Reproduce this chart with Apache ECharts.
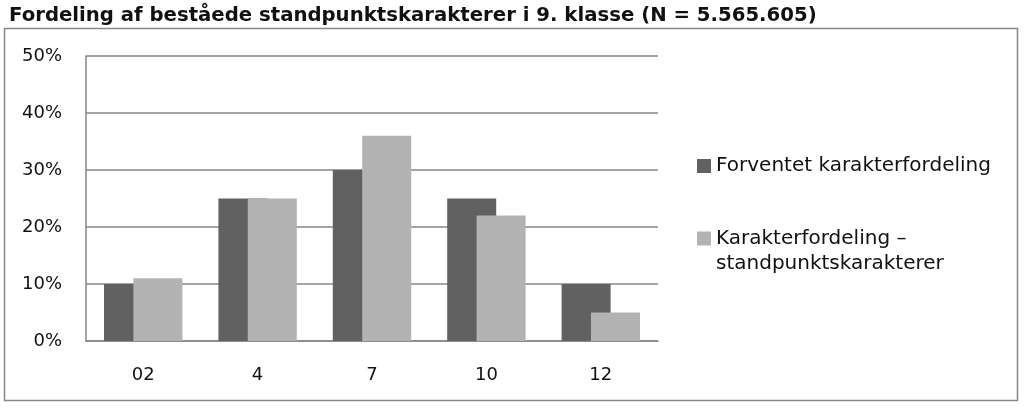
<!DOCTYPE html>
<html>
<head>
<meta charset="utf-8">
<script src="https://cdn.jsdelivr.net/npm/echarts@6/dist/echarts.min.js"></script>
<style>
html,body{margin:0;padding:0;background:#fff;}
#c{width:1024px;height:408px;}
</style>
</head>
<body>
<div id="c"></div>
<script>
const titleText = 'Fordeling af beståede standpunktskarakterer i 9. klasse (N = 5.565.605)';
const categories = ['02', '4', '7', '10', '12'];
const seriesNames = ['Forventet karakterfordeling', 'Karakterfordeling –\nstandpunktskarakterer'];
const expected = [10, 25, 30, 25, 10];
const actual = [11, 25, 36, 22, 5];
const yTicks = [0, 10, 20, 30, 40, 50];

const FONT = 'DejaVu Sans';
const chart = echarts.init(document.getElementById('c'), null, {renderer: 'canvas'});
chart.setOption({
  animation: false,
  backgroundColor: '#fff',
  title: {
    text: titleText,
    left: 4, top: 1,
    textStyle: {fontFamily: FONT, fontWeight: 'bold', fontSize: 19.7, color: '#111'}
  },
  graphic: [{
    type: 'rect',
    shape: {x: 4.5, y: 28.5, width: 1013, height: 372},
    style: {fill: 'none', stroke: '#868686', lineWidth: 1.5},
    z: -1
  }],
  legend: {
    orient: 'vertical',
    left: 697, top: 153.5,
    padding: 0,
    itemWidth: 14, itemHeight: 14,
    itemGap: 22.5,
    icon: 'rect',
    formatter: function (name) { return name === seriesNames[1] ? '\n' + name : name; },
    textStyle: {fontFamily: FONT, fontSize: 20, color: '#111', lineHeight: 25},
    data: seriesNames
  },
  grid: {left: 86, right: 366, top: 56, bottom: 67, containLabel: false},
  xAxis: {
    type: 'category',
    data: categories,
    axisLine: {show: true, lineStyle: {color: '#868686', width: 1.5}},
    axisTick: {show: false},
    axisLabel: {fontFamily: FONT, fontSize: 18, color: '#111', margin: 25}
  },
  yAxis: {
    type: 'value',
    min: yTicks[0], max: yTicks[yTicks.length - 1], interval: 10,
    axisLine: {show: true, lineStyle: {color: '#868686', width: 1.5}},
    axisTick: {show: false},
    splitLine: {lineStyle: {color: '#868686', width: 1.5}},
    axisLabel: {fontFamily: FONT, fontSize: 18, color: '#111', margin: 24, formatter: '{value}%'}
  },
  series: [
    {name: seriesNames[0], type: 'bar', data: expected, barWidth: 49, barGap: '-40%',
     itemStyle: {color: '#616161'}},
    {name: seriesNames[1], type: 'bar', data: actual, barWidth: 49, barGap: '-40%',
     itemStyle: {color: '#b3b3b3'}}
  ]
});
</script>
</body>
</html>
